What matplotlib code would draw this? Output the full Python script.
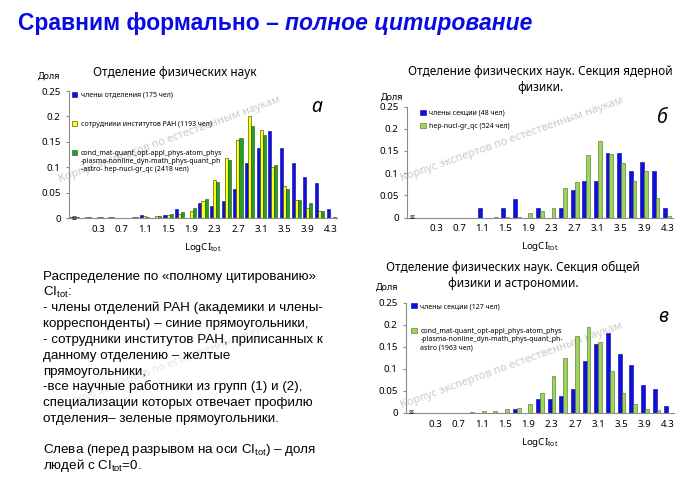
import numpy as np
import matplotlib
matplotlib.use('Agg')
import matplotlib.pyplot as plt

plt.rcParams['font.family'] = ['Noto Sans', 'DejaVu Sans']
plt.rcParams['mathtext.fontset'] = 'custom'
plt.rcParams['mathtext.rm'] = 'Noto Sans'
plt.rcParams['mathtext.bf'] = 'Noto Sans:bold'
plt.rcParams['mathtext.it'] = 'Noto Sans:italic'

W, H = 700, 483

# categories of LogCI_tot (first one = CI_tot=0, shown as an axis break)
cats = ['', '0.1', '0.3', '0.5', '0.7', '0.9', '1.1', '1.3', '1.5', '1.7', '1.9', '2.1',
        '2.3', '2.5', '2.7', '2.9', '3.1', '3.3', '3.5', '3.7', '3.9', '4.1', '4.3']
yticks = [0, 0.05, 0.1, 0.15, 0.2, 0.25]
ytick_labels = ['0', '0.05', '0.1', '0.15', '0.2', '0.25']

# panel a - whole physics department
a_members = [0.001, 0, 0, 0, 0, 0, 0.006, 0, 0.006, 0.017, 0, 0.029,
             0.023, 0.034, 0.057, 0.109, 0.137, 0.171, 0.137, 0.109, 0.080, 0.069, 0.017]
a_staff = [0.001, 0.002, 0.001, 0.001, 0, 0.001, 0.003, 0.003, 0.006, 0.007, 0.013, 0.034,
           0.075, 0.119, 0.154, 0.200, 0.174, 0.100, 0.063, 0.035, 0.019, 0.014, 0]
a_all = [0.001, 0.001, 0.001, 0.001, 0, 0.002, 0.002, 0.004, 0.007, 0.011, 0.019, 0.038,
         0.071, 0.114, 0.157, 0.182, 0.163, 0.105, 0.058, 0.035, 0.029, 0.014, 0.002]
a_labels = ['члены отделения (175 чел)',
            'сотрудники институтов РАН (1193 чел)',
            'cond_mat-quant_opt-appl_phys-atom_phys\n-plasma-nonline_dyn-math_phys-quant_ph\n'
            '-astro- hep-nucl-gr_qc (2418 чел)']

# panel b - nuclear physics section
b_members = [0, 0, 0, 0, 0, 0, 0.021, 0, 0.021, 0.042, 0, 0.021,
             0, 0.021, 0.063, 0.083, 0.083, 0.146, 0.146, 0.104, 0.125, 0.104, 0.021]
b_all = [0, 0, 0, 0, 0, 0, 0, 0.002, 0.002, 0.002, 0.011, 0.014,
         0.021, 0.067, 0.080, 0.140, 0.173, 0.143, 0.122, 0.082, 0.104, 0.044, 0.004]
b_labels = ['члены секции (48 чел)', 'hep-nucl-gr_qc (524 чел)']

# panel c - general physics and astronomy section
c_members = [0.001, 0, 0, 0, 0, 0, 0, 0, 0, 0.008, 0, 0.031,
             0.031, 0.039, 0.055, 0.118, 0.157, 0.181, 0.134, 0.110, 0.063, 0.055, 0.016]
c_all = [0.001, 0.001, 0.001, 0.001, 0, 0.003, 0.004, 0.004, 0.008, 0.012, 0.021, 0.045,
         0.084, 0.125, 0.175, 0.195, 0.161, 0.095, 0.045, 0.021, 0.010, 0.006, 0.001]
c_labels = ['члены секции (127 чел)',
            'cond_mat-quant_opt-appl_phys-atom_phys\n-plasma-nonline_dyn-math_phys-quant_ph-\n'
            'astro (1963 чел)']

BLUE, YELLOW, DGREEN, LGREEN = '#1010DC', '#FFFF10', '#2A9A2A', '#9CD45C'
TITLE_BLUE = '#0A0AE6'
WATERMARK = 'Корпус экспертов по естественным наукам'

text_lines = [
    'Распределение по «полному цитированию»',
    'CI$_\\mathregular{tot}$:',
    '- члены отделений РАН (академики и члены-',
    'корреспонденты) – синие прямоугольники,',
    '- сотрудники институтов РАН, приписанных к',
    'данному отделению – желтые',
    'прямоугольники,',
    '-все научные работники из групп (1) и (2),',
    'специализации которых отвечает профилю',
    'отделения– зеленые прямоугольники.',
    '',
    'Слева (перед разрывом на оси CI$_\\mathregular{tot}$) – доля',
    'людей с CI$_\\mathregular{tot}$=0.',
]


def px(x, y):
    return x / W, 1 - y / H


def box(l, t, r, b):
    return [l / W, 1 - b / H, (r - l) / W, (b - t) / H]


def panel(ax, series, colors, edges, labels, width, step, leg_anchor, leg_space):
    x = np.arange(len(cats))
    n = len(series)
    for i, (vals, c, e, lab) in enumerate(zip(series, colors, edges, labels)):
        ax.bar(x + (i - (n - 1) / 2) * step, vals, width, color=c, edgecolor=e,
               linewidth=0.4, label=lab, zorder=2)
    ax.set_xlim(-0.5, len(cats) - 0.5)
    ax.set_ylim(0, 0.25)
    ax.set_yticks(yticks)
    ax.set_yticklabels(ytick_labels)
    ax.set_xticks(x[2::2])
    ax.set_xticklabels(cats[2::2])
    ax.patch.set_alpha(0)
    for s in ['top', 'right']:
        ax.spines[s].set_visible(False)
    for s in ['left', 'bottom']:
        ax.spines[s].set_color('#8C8C8C')
        ax.spines[s].set_linewidth(0.8)
    ax.tick_params(axis='y', length=2, pad=4, labelsize=7, color='#8C8C8C')
    ax.tick_params(axis='x', length=0, pad=5, labelsize=7)
    for t in ax.get_xticklabels() + ax.get_yticklabels():
        t.set_fontweight('bold')
    ax.set_xlabel('LogCI$_\\mathregular{tot}$', fontsize=7, fontweight='bold', labelpad=5)
    ax.text(0, 0, 'ss', fontsize=5, ha='center', va='center', style='italic', zorder=3)
    leg = ax.legend(loc='upper left', bbox_to_anchor=leg_anchor, frameon=False, fontsize=5,
                    handlelength=0.8, handleheight=0.8, handletextpad=0.5,
                    labelspacing=leg_space, borderaxespad=0, borderpad=0)
    for col in leg._legend_handle_box.get_children():
        for item in col.get_children():
            item.align = 'top'
    return ax


def title_lines(x, ys, lines):
    for y, line in zip(ys, lines):
        fig.text(*px(x, y), line, fontsize=8.5, fontweight='bold', ha='center', va='center')


fig = plt.figure(figsize=(W / 100, H / 100), dpi=100)

# slide title: bold part + bold italic part on the same baseline
t1 = fig.text(*px(18, 30), 'Сравним формально – ', fontsize=16.5, fontweight='bold',
              color=TITLE_BLUE, family='Liberation Sans', va='baseline')
fig.canvas.draw()
x1 = t1.get_window_extent().x1 / W
fig.text(x1, t1.get_position()[1], 'полное цитирование', fontsize=16.5,
         fontweight='bold', style='italic', color=TITLE_BLUE,
         family='Liberation Sans', va='baseline', ha='left')

# panel a
ax1 = fig.add_axes(box(69, 91, 337, 218))
panel(ax1, [a_members, a_staff, a_all], [BLUE, YELLOW, DGREEN],
      ['#0000A0', '#303000', '#0E5E0E'], a_labels, 0.26, 0.26,
      (0.01, 0.995), 3.2)
title_lines(175, [72], ['Отделение физических наук'])
fig.text(*px(49, 76), 'Доля', fontsize=6.5, fontweight='bold', ha='center', va='center')
fig.text(*px(317, 107), 'а', fontsize=14, fontweight='bold', style='italic',
         ha='center', va='center')

# panel b
ax2 = fig.add_axes(box(407, 106.5, 673, 217.5))
panel(ax2, [b_members, b_all], [BLUE, LGREEN], ['#0000A0', '#4A6A20'], b_labels,
      0.33, 0.33, (0.05, 0.97), 0.9)
title_lines(540, [71, 88], ['Отделение физических наук. Секция ядерной', 'физики.'])
fig.text(*px(392, 97), 'Доля', fontsize=6.5, fontweight='bold', ha='center', va='center')
fig.text(*px(662, 118), 'б', fontsize=14, fontweight='bold', style='italic',
         ha='center', va='center')

# panel c
ax3 = fig.add_axes(box(406, 303, 674, 413))
panel(ax3, [c_members, c_all], [BLUE, LGREEN], ['#0000A0', '#4A6A20'], c_labels,
      0.33, 0.33, (0.02, 1.0), 2.6)
title_lines(513, [267, 284], ['Отделение физических наук. Секция общей',
                              'физики и астрономии.'])
fig.text(*px(387, 287), 'Доля', fontsize=6.5, fontweight='bold', ha='center', va='center')
fig.text(*px(663, 317), 'в', fontsize=14, fontweight='bold', style='italic',
         ha='center', va='center')

# explanatory text, one line at a time at an even pitch
for i, line in enumerate(text_lines):
    fig.text(*px(43, 280 + i * 15.75), line, fontsize=9.6, family='Liberation Sans',
             ha='left', va='baseline')

# watermarks
for cx, cy, ang, a in [(170, 140, 20, 0.7), (512, 140, 19.5, 0.7),
                        (512, 366, 20, 0.7), (170, 365, 21, 0.35)]:
    fig.text(*px(cx, cy), WATERMARK, fontsize=8, fontweight='bold', color='#B4B4B4',
             alpha=a, rotation=ang, rotation_mode='anchor', ha='center', va='center',
             zorder=-1)

fig.savefig('out.png', dpi=100)
